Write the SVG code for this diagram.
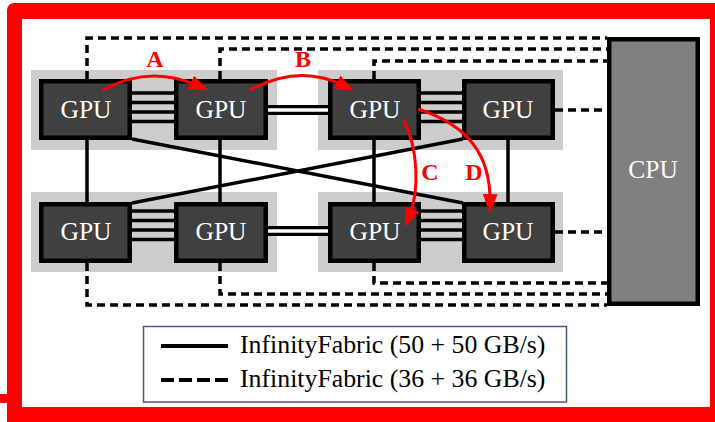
<svg xmlns="http://www.w3.org/2000/svg" width="715" height="422" viewBox="0 0 715 422">
<style>
.module{fill:#cdcdcd}
.gpu{fill:#404040;stroke:#000;stroke-width:4.5}
.cpu{fill:#808080;stroke:#000;stroke-width:4.5}
.lbl{font-family:"Liberation Serif","Times New Roman",serif;font-size:25.5px;fill:#fff;text-anchor:middle}
.solid{stroke:#000;stroke-width:3.5;fill:none}
.dash{stroke:#000;stroke-width:3.5;fill:none;stroke-dasharray:8 5}
.dbl-outer{stroke:#000;stroke-width:10;fill:none}
.dbl-inner{stroke:#fff;stroke-width:3.5;fill:none}
.red{stroke:#ff0000;stroke-width:3;fill:none;marker-end:url(#arrow)}
.rlbl{font-family:"Liberation Serif","Times New Roman",serif;font-size:24px;font-weight:bold;fill:#ff0000;text-anchor:middle}
.leg{font-family:"Liberation Serif","Times New Roman",serif;font-size:25.8px;fill:#000}
</style>
<defs>
<marker id="arrow" markerUnits="userSpaceOnUse" markerWidth="20" markerHeight="16" refX="9" refY="7.5" orient="auto">
<path d="M0,0 L19,7.5 L0,15 Z" fill="#ff0000"/>
</marker>
</defs>
<rect x="0" y="0" width="715" height="422" fill="#fff"/>
<g id="frame">
<rect x="7" y="3" width="730" height="440" rx="7" fill="#ff0000"/>
<rect x="0" y="394" width="9" height="9" fill="#ff0000"/>
<rect x="22" y="19" width="688" height="388" fill="#fff"/>
</g>
<g id="modules">
<rect class="module" x="31" y="70" width="246" height="80"/>
<rect class="module" x="318" y="70" width="245" height="80"/>
<rect class="module" x="31" y="192" width="246" height="80"/>
<rect class="module" x="318" y="192" width="245" height="80"/>
</g>
<g id="connectors">
<path class="solid" d="M130,93H176M130,102.5H176M130,112H176M130,121.5H176"/>
<path class="solid" d="M419,93H464M419,102.5H464M419,112H464M419,121.5H464"/>
<path class="solid" d="M130,211H176M130,220.5H176M130,230H176M130,239.5H176"/>
<path class="solid" d="M419,211H464M419,220.5H464M419,230H464M419,239.5H464"/>
<path class="dbl-outer" d="M266,110H330M266,231H330"/>
<path class="dbl-inner" d="M266,110H330M266,231H330"/>
<path class="solid" d="M87,140V202M220,140V202M374,140V202M508,140V202"/>
<path class="solid" d="M132,139L463,203M132,203L463,139"/>
<path class="dash" d="M87,79V38H607"/>
<path class="dash" d="M220,79V49H607"/>
<path class="dash" d="M374,79V61H607"/>
<path class="dash" d="M555,110H607"/>
<path class="dash" d="M87,263V305H607"/>
<path class="dash" d="M220,263V294H607"/>
<path class="dash" d="M374,263V283H607"/>
<path class="dash" d="M555,232H607"/>
</g>
<g id="gpu1"><rect class="gpu" x="41.25" y="81.25" width="88.5" height="56.5"/><text class="lbl" x="86" y="118">GPU</text></g>
<g id="gpu2"><rect class="gpu" x="176.25" y="81.25" width="89.5" height="56.5"/><text class="lbl" x="221" y="118">GPU</text></g>
<g id="gpu3"><rect class="gpu" x="330.25" y="81.25" width="88.5" height="56.5"/><text class="lbl" x="375" y="118">GPU</text></g>
<g id="gpu4"><rect class="gpu" x="464.25" y="81.25" width="88.5" height="56.5"/><text class="lbl" x="508" y="118">GPU</text></g>
<g id="gpu5"><rect class="gpu" x="41.25" y="204.25" width="88.5" height="56.5"/><text class="lbl" x="86" y="240">GPU</text></g>
<g id="gpu6"><rect class="gpu" x="176.25" y="204.25" width="89.5" height="56.5"/><text class="lbl" x="221" y="240">GPU</text></g>
<g id="gpu7"><rect class="gpu" x="330.25" y="204.25" width="88.5" height="56.5"/><text class="lbl" x="375" y="240">GPU</text></g>
<g id="gpu8"><rect class="gpu" x="464.25" y="204.25" width="88.5" height="56.5"/><text class="lbl" x="508" y="240">GPU</text></g>
<g id="cpu"><rect class="cpu" x="609.25" y="39.25" width="88.5" height="264.5"/><text class="lbl" x="653" y="178">CPU</text></g>
<g id="transfers">
<path class="red" d="M103,90 Q150,64 199,86.2"/>
<path class="red" d="M250,90 Q300,63 345,86.2"/>
<path class="red" d="M404,120 C418,150 420,190 408.8,217.6"/>
<path class="red" d="M418,109 C468,125 491,155 490,203"/>
<text class="rlbl" x="155" y="67">A</text>
<text class="rlbl" x="303" y="67">B</text>
<text class="rlbl" x="430" y="180">C</text>
<text class="rlbl" x="474" y="180">D</text>
</g>
<g id="legend">
<rect x="143.5" y="326.5" width="423" height="75.5" fill="#fff" stroke="#4a5a78" stroke-width="1.5"/>
<line x1="161" y1="346" x2="228" y2="346" stroke="#000" stroke-width="4"/>
<line x1="161" y1="380" x2="228" y2="380" stroke="#000" stroke-width="4" stroke-dasharray="13 5"/>
<text class="leg" x="240" y="353">InfinityFabric (50 + 50 GB/s)</text>
<text class="leg" x="240" y="387">InfinityFabric (36 + 36 GB/s)</text>
</g>
</svg>
